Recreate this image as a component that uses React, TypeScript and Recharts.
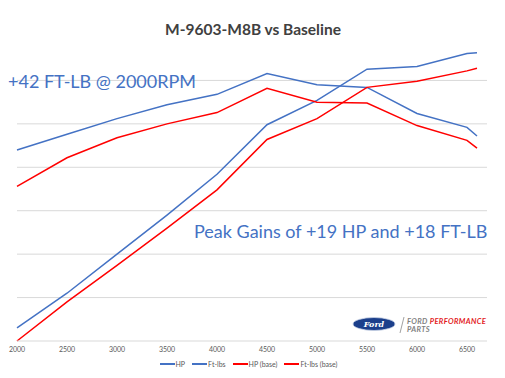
import { LineChart, Line, XAxis, YAxis, Legend, ReferenceLine } from 'recharts'

const rpm = [2000, 2500, 3000, 3500, 4000, 4500, 5000, 5500, 6000, 6500, 6600]
const hp = [115, 155, 200, 245, 292, 349, 377, 413, 416, 431, 432]
const ftlbs = [320, 338, 356, 372, 384, 408, 395, 392, 362, 346, 336]
const hpBase = [100, 145, 187, 230, 274, 332, 356, 392, 399, 411, 414]
const ftlbsBase = [278, 311, 334, 350, 363, 391, 375, 374, 348, 331, 322]

const seriesNames = ['HP', 'Ft-lbs', 'HP (base)', 'Ft-lbs (base)']
const xTicks = [2000, 2500, 3000, 3500, 4000, 4500, 5000, 5500, 6000, 6500]
const yTicks = [150, 200, 250, 300, 350, 400]

const data = rpm.map((r, i) => ({
  rpm: r,
  hp: hp[i],
  ftlbs: ftlbs[i],
  hpBase: hpBase[i],
  ftlbsBase: ftlbsBase[i],
}))

const BLUE = '#4472C4'
const RED = '#FF0000'
const FONT = 'Lato, "Open Sans", sans-serif'

const LegendContent = (props: any) => {
  const payload = [...(props.payload || [])].sort(
    (a: any, b: any) => seriesNames.indexOf(a.value) - seriesNames.indexOf(b.value)
  )
  return (
    <div
      style={{
        display: 'flex',
        justifyContent: 'center',
        alignItems: 'center',
        height: 14,
        fontFamily: FONT,
        fontSize: 7,
        color: '#595959',
      }}
    >
      {payload.map((p: any) => (
        <span key={p.value} style={{ display: 'flex', alignItems: 'center', marginRight: 7 }}>
          <span
            style={{
              display: 'inline-block',
              width: 15,
              height: 2,
              background: p.color,
              marginRight: 1,
            }}
          />
          {p.value}
        </span>
      ))}
    </div>
  )
}

export default function App() {
  return (
    <div style={{ position: 'absolute', left: 0, top: 0, width: 505, height: 378, background: '#fff' }}>
      <LineChart
        width={505}
        height={378}
        data={data}
        margin={{ top: 37, right: 18, left: 17, bottom: 7 }}
      >
        <XAxis
          dataKey="rpm"
          type="number"
          domain={[2000, 6700]}
          ticks={xTicks}
          height={16}
          tickLine={false}
          tickSize={4}
          axisLine={{ stroke: '#D9D9D9' }}
          tick={{ fontSize: 7, fill: '#595959', fontFamily: FONT }}
        />
        <YAxis hide domain={[100, 450]} ticks={yTicks} />
        {yTicks.map((t) => (
          <ReferenceLine key={t} y={t} stroke="#D9D9D9" strokeWidth={1} />
        ))}
        <Legend verticalAlign="bottom" itemSorter={null as any} content={<LegendContent />} />
        <Line dataKey="hp" name="HP" stroke={BLUE} strokeWidth={1.5} dot={false} isAnimationActive={false} />
        <Line dataKey="ftlbs" name="Ft-lbs" stroke={BLUE} strokeWidth={1.5} dot={false} isAnimationActive={false} />
        <Line dataKey="hpBase" name="HP (base)" stroke={RED} strokeWidth={1.5} dot={false} isAnimationActive={false} />
        <Line dataKey="ftlbsBase" name="Ft-lbs (base)" stroke={RED} strokeWidth={1.5} dot={false} isAnimationActive={false} />
      </LineChart>
      <svg
        width={505}
        height={378}
        style={{ position: 'absolute', left: 0, top: 0, pointerEvents: 'none' }}
      >
        <text x={253} y={35} textAnchor="middle" fontFamily={FONT} fontWeight="bold" fontSize={15.5} fill="#404040">
          M-9603-M8B vs Baseline
        </text>
        <text x={8} y={88} fontFamily={FONT} fontSize={18} fill={BLUE}>
          +42 FT-LB @ 2000RPM
        </text>
        <text x={194} y={238} fontFamily={FONT} fontSize={18} fill={BLUE}>
          Peak Gains of +19 HP and +18 FT-LB
        </text>
        <ellipse cx={374} cy={324} rx={21} ry={6.5} fill="#1B3F8B" stroke="#c9d3e6" strokeWidth={0.8} />
        <text x={374} y={327} textAnchor="middle" fontFamily="'DejaVu Serif', serif" fontStyle="italic" fontWeight="bold" fontSize={8} fill="#fff">
          Ford
        </text>
        <line x1={404} y1={317} x2={400} y2={333} stroke="#8a8a8a" strokeWidth={0.8} />
        <text x={407} y={324} fontFamily={FONT} fontStyle="italic" fontWeight="bold" fontSize={7.5} letterSpacing={0.35} fill="#7f7f7f">
          FORD <tspan fill="#E31B23">PERFORMANCE</tspan>
        </text>
        <text x={407} y={332} fontFamily={FONT} fontStyle="italic" fontWeight="bold" fontSize={7.5} letterSpacing={0.35} fill="#7f7f7f">
          PARTS
        </text>
      </svg>
    </div>
  )
}
